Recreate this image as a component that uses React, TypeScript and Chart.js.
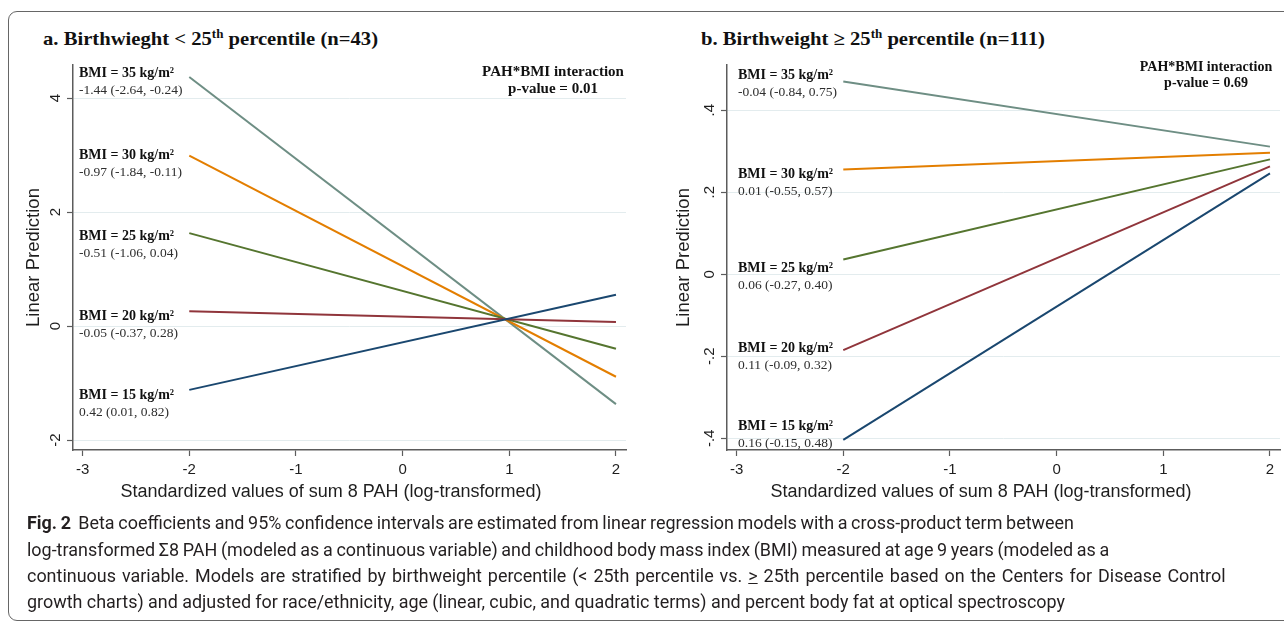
import React, { useEffect, useLayoutEffect, useRef } from "react";
import { Chart, registerables } from "chart.js";

Chart.register(...registerables);

// ---------- data ----------
const xPoints = [-2, 2];
const xTicks = [-3, -2, -1, 0, 1, 2];
const bmiLevels = [15, 20, 25, 30, 35];
const bmiColors = ["#1a476f", "#90353b", "#55752f", "#e37e00", "#6e8e84"];

// Panel a (birthweight < 25th percentile)
const panelAStart = [-1.12, 0.26, 1.63, 2.99, 4.37]; // prediction at x = -2
const panelAEnd = [0.55, 0.07, -0.4, -0.89, -1.37]; // prediction at x = 2
const panelAEstimates = [
  "0.42 (0.01, 0.82)",
  "-0.05 (-0.37, 0.28)",
  "-0.51 (-1.06, 0.04)",
  "-0.97 (-1.84, -0.11)",
  "-1.44 (-2.64, -0.24)",
];
const panelALabelY = [-1.22, 0.17, 1.57, 3.0, 4.44];
const panelAYTicks = [-2, 0, 2, 4];
const panelAYTickLabels = ["-2", "0", "2", "4"];

// Panel b (birthweight >= 25th percentile)
const panelBStart = [-0.404, -0.185, 0.036, 0.255, 0.47];
const panelBEnd = [0.246, 0.263, 0.28, 0.296, 0.311];
const panelBEstimates = [
  "0.16 (-0.15, 0.48)",
  "0.11 (-0.09, 0.32)",
  "0.06 (-0.27, 0.40)",
  "0.01 (-0.55, 0.57)",
  "-0.04 (-0.84, 0.75)",
];
const panelBLabelY = [-0.37, -0.18, 0.015, 0.244, 0.485];
const panelBYTicks = [-0.4, -0.2, 0, 0.2, 0.4];
const panelBYTickLabels = ["-.4", "-.2", "0", ".2", ".4"];

const xAxisTitle = "Standardized values of sum 8 PAH (log-transformed)";
const yAxisTitle = "Linear Prediction";

// ---------- styling ----------
const SANS = '"Liberation Sans", Arial, sans-serif';
const SERIF = '"Liberation Serif", "Times New Roman", serif';
const AXIS_COLOR = "#5c5c5c";
const GRID_COLOR = "#e3ecee";
const TEXT_COLOR = "#1e1e1e";

type PanelCfg = {
  start: number[];
  end: number[];
  estimates: string[];
  labelY: number[];
  yTicks: number[];
  yTickLabels: string[];
  yMin: number;
  yMax: number;
  yAxisWidth: number;
  padRight: number;
  labelDx: number;
  interFont: number;
  interDx: number;
  interDy: number;
  interGap: number;
  pvalue: string;
  xTitleDx: number;
};

function makeChart(canvas: HTMLCanvasElement, cfg: PanelCfg) {
  const annotate = {
    id: "annotate",
    afterDraw(chart: any) {
      const { ctx, chartArea, scales } = chart;
      const y = scales.y;
      ctx.save();
      // rotated y tick labels (Stata style)
      ctx.fillStyle = TEXT_COLOR;
      ctx.font = `15px ${SANS}`;
      y.ticks.forEach((t: any) => {
        const py = y.getPixelForValue(t.value);
        ctx.save();
        ctx.translate(chartArea.left - 17, py);
        ctx.rotate(-Math.PI / 2);
        ctx.textAlign = "center";
        ctx.textBaseline = "middle";
        ctx.fillText(String(t.label), 0, 0);
        ctx.restore();
      });
      // x axis title
      ctx.font = `18px ${SANS}`;
      ctx.textAlign = "center";
      ctx.textBaseline = "middle";
      ctx.fillText(xAxisTitle, chartArea.left + cfg.xTitleDx, chartArea.bottom + 42);
      // BMI labels
      ctx.textAlign = "left";
      ctx.textBaseline = "middle";
      bmiLevels.forEach((b, i) => {
        const py = y.getPixelForValue(cfg.labelY[i]);
        const lx = chartArea.left + cfg.labelDx;
        ctx.font = `bold 14px ${SERIF}`;
        ctx.fillStyle = "#111";
        ctx.fillText(`BMI = ${b} kg/m²`, lx, py);
        ctx.font = `13.5px ${SERIF}`;
        ctx.fillStyle = "#2e2e2e";
        ctx.fillText(cfg.estimates[i], lx, py + 17);
      });
      // interaction text
      ctx.textAlign = "center";
      ctx.fillStyle = "#111";
      ctx.font = `bold ${cfg.interFont}px ${SERIF}`;
      const cx = chartArea.right - cfg.interDx;
      ctx.fillText("PAH*BMI interaction", cx, chartArea.top + cfg.interDy);
      ctx.fillText(`p-value = ${cfg.pvalue}`, cx, chartArea.top + cfg.interDy + cfg.interGap);
      ctx.restore();
    },
  };

  return new Chart(canvas, {
    type: "line",
    data: {
      datasets: bmiLevels.map((b, i) => ({
        label: `BMI = ${b}`,
        data: xPoints.map((x, j) => ({ x, y: j === 0 ? cfg.start[i] : cfg.end[i] })),
        borderColor: bmiColors[i],
        backgroundColor: bmiColors[i],
        borderWidth: 2,
        pointRadius: 0,
        fill: false,
        tension: 0,
      })),
    },
    options: {
      animation: false,
      responsive: false,
      maintainAspectRatio: false,
      events: [],
      layout: { padding: { top: 15, right: cfg.padRight, bottom: 0, left: 0 } },
      plugins: { legend: { display: false }, tooltip: { enabled: false } },
      scales: {
        x: {
          type: "linear",
          min: -3.09,
          max: 2.094,
          afterBuildTicks: (s: any) => {
            s.ticks = xTicks.map((v) => ({ value: v }));
          },
          afterFit: (s: any) => {
            s.height = 70;
          },
          border: { color: AXIS_COLOR, width: 1.5 },
          grid: {
            drawOnChartArea: false,
            drawTicks: true,
            tickLength: 6,
            tickColor: AXIS_COLOR,
            tickWidth: 1.2,
          },
          ticks: {
            color: TEXT_COLOR,
            font: { family: SANS, size: 15 },
            padding: 5,
            maxRotation: 0,
            callback: (v: any) => String(v),
          },
          title: { display: false },
        },
        y: {
          type: "linear",
          min: cfg.yMin,
          max: cfg.yMax,
          afterBuildTicks: (s: any) => {
            s.ticks = cfg.yTicks.map((v) => ({ value: v }));
          },
          afterFit: (s: any) => {
            s.width = cfg.yAxisWidth;
          },
          border: { color: AXIS_COLOR, width: 1.5 },
          grid: {
            color: GRID_COLOR,
            lineWidth: 1,
            drawTicks: true,
            tickLength: 6,
            tickColor: AXIS_COLOR,
            tickWidth: 1.2,
          },
          ticks: {
            display: false,
            callback: (v: any) => {
              const idx = cfg.yTicks.findIndex((t) => Math.abs(t - v) < 1e-9);
              return idx >= 0 ? cfg.yTickLabels[idx] : String(v);
            },
          },
          title: {
            display: true,
            text: yAxisTitle,
            color: TEXT_COLOR,
            font: { family: SANS, size: 18.5 },
            padding: { top: 22.5, bottom: 0 },
          },
        },
      },
    },
    plugins: [annotate],
  } as any);
}

function Panel({ cfg, left, width }: { cfg: PanelCfg; left: number; width: number }) {
  const ref = useRef<HTMLCanvasElement>(null);
  useEffect(() => {
    if (!ref.current) return;
    const chart = makeChart(ref.current, cfg);
    return () => chart.destroy();
  }, []);
  return (
    <canvas
      ref={ref}
      width={width}
      height={470}
      style={{ position: "absolute", left, top: 50, width, height: 470 }}
    />
  );
}

const panelA: PanelCfg = {
  start: panelAStart,
  end: panelAEnd,
  estimates: panelAEstimates,
  labelY: panelALabelY,
  yTicks: panelAYTicks,
  yTickLabels: panelAYTickLabels,
  yMin: -2.175,
  yMax: 4.58,
  yAxisWidth: 73,
  padRight: 14,
  labelDx: 6,
  interFont: 15,
  interDx: 73,
  interDy: 7,
  interGap: 17.5,
  pvalue: "0.01",
  xTitleDx: 258,
};

const panelB: PanelCfg = {
  start: panelBStart,
  end: panelBEnd,
  estimates: panelBEstimates,
  labelY: panelBLabelY,
  yTicks: panelBYTicks,
  yTickLabels: panelBYTickLabels,
  yMin: -0.4285,
  yMax: 0.51,
  yAxisWidth: 77,
  padRight: 4,
  labelDx: 11,
  interFont: 14,
  interDx: 74,
  interDy: 2,
  interGap: 16.5,
  pvalue: "0.69",
  xTitleDx: 254,
};

// Text that is scaled horizontally to a measured target width
function FitText({
  target,
  style,
  children,
}: {
  target: number;
  style: React.CSSProperties;
  children: React.ReactNode;
}) {
  const ref = useRef<HTMLDivElement>(null);
  const fit = () => {
    const el = ref.current;
    if (!el) return;
    el.style.transform = "none";
    const w = el.getBoundingClientRect().width;
    if (w > 0) el.style.transform = `scaleX(${target / w})`;
  };
  useLayoutEffect(() => {
    fit();
    const fonts = (document as any).fonts;
    if (fonts && fonts.ready) fonts.ready.then(fit);
  }, []);
  return (
    <div
      ref={ref}
      style={{
        position: "absolute",
        whiteSpace: "nowrap",
        display: "inline-block",
        transformOrigin: "0 50%",
        ...style,
      }}
    >
      {children}
    </div>
  );
}

// measured line extents in the reference (start x = 27)
const captionTargets = [1045, 1034, 1251, 1038];
const captionCenters = [523, 550, 576, 602];

function Caption() {
  const r0 = useRef<HTMLDivElement>(null);
  const r1 = useRef<HTMLDivElement>(null);
  const r2 = useRef<HTMLDivElement>(null);
  const r3 = useRef<HTMLDivElement>(null);
  const refs = [r0, r1, r2, r3];
  const fit = () => {
    const widths: number[] = [];
    let sumW = 0;
    let sumT = 0;
    refs.forEach((r, i) => {
      const el = r.current;
      if (!el) return;
      el.style.transform = "none";
      el.style.wordSpacing = "0px";
      const w = el.getBoundingClientRect().width;
      widths[i] = w;
      sumW += w;
      sumT += captionTargets[i];
    });
    if (sumW <= 0) return;
    const s = sumT / sumW;
    refs.forEach((r, i) => {
      const el = r.current;
      if (!el) return;
      const spaces = ((el.textContent || "").match(/[ \u00a0]/g) || []).length;
      let extra = spaces > 0 ? (captionTargets[i] / s - widths[i]) / spaces : 0;
      extra = Math.max(-0.8, Math.min(1.5, extra));
      el.style.wordSpacing = `${extra}px`;
      el.style.transform = `scaleX(${s})`;
    });
  };
  useLayoutEffect(() => {
    fit();
    const fonts = (document as any).fonts;
    if (fonts && fonts.ready) fonts.ready.then(fit);
  }, []);
  const lines = [
    <>
      <b>Fig. 2</b>&nbsp; Beta coefficients and 95% confidence intervals are estimated from linear regression models with a cross-product term between
    </>,
    <>
      log-transformed Σ8 PAH (modeled as a continuous variable) and childhood body mass index (BMI) measured at age 9 years (modeled as a
    </>,
    <>
      continuous variable. Models are stratified by birthweight percentile (&lt; 25th percentile vs.{" "}
      <span style={{ textDecoration: "underline" }}>&gt;</span> 25th percentile based on the Centers for Disease Control
    </>,
    <>growth charts) and adjusted for race/ethnicity, age (linear, cubic, and quadratic terms) and percent body fat at optical spectroscopy</>,
  ];
  return (
    <>
      {lines.map((l, i) => (
        <div
          key={i}
          ref={refs[i]}
          style={{
            position: "absolute",
            whiteSpace: "nowrap",
            display: "inline-block",
            transformOrigin: "0 50%",
            left: 27,
            top: captionCenters[i] - 13,
            height: 26,
            lineHeight: "26px",
            fontFamily: 'Roboto, "Liberation Sans", sans-serif',
            fontSize: 18,
            color: "#231f20",
          }}
        >
          {l}
        </div>
      ))}
    </>
  );
}

const titleStyle: React.CSSProperties = {
  top: 28,
  fontFamily: SERIF,
  fontWeight: "bold",
  fontSize: 19,
  lineHeight: "22px",
  color: "#111",
};
const supStyle: React.CSSProperties = { fontSize: 12, position: "relative", top: -7 };

export default function App() {
  return (
    <div
      style={{
        position: "fixed",
        left: 0,
        top: 0,
        width: 1284,
        height: 622,
        overflow: "hidden",
        background: "#fff",
      }}
    >
      <div
        style={{
          position: "absolute",
          left: 8,
          top: 11,
          width: 1320,
          height: 608,
          border: "1.5px solid #666",
          borderRadius: 9,
        }}
      />
      <FitText target={335} style={{ ...titleStyle, left: 43 }}>
        a. Birthwieght &lt; 25<span style={supStyle}>th</span> percentile (n=43)
      </FitText>
      <FitText target={344} style={{ ...titleStyle, left: 701 }}>
        b. Birthweight ≥ 25<span style={supStyle}>th</span> percentile (n=111)
      </FitText>
      <Panel cfg={panelA} left={0} width={640} />
      <Panel cfg={panelB} left={650} width={634} />
      <Caption />
    </div>
  );
}
